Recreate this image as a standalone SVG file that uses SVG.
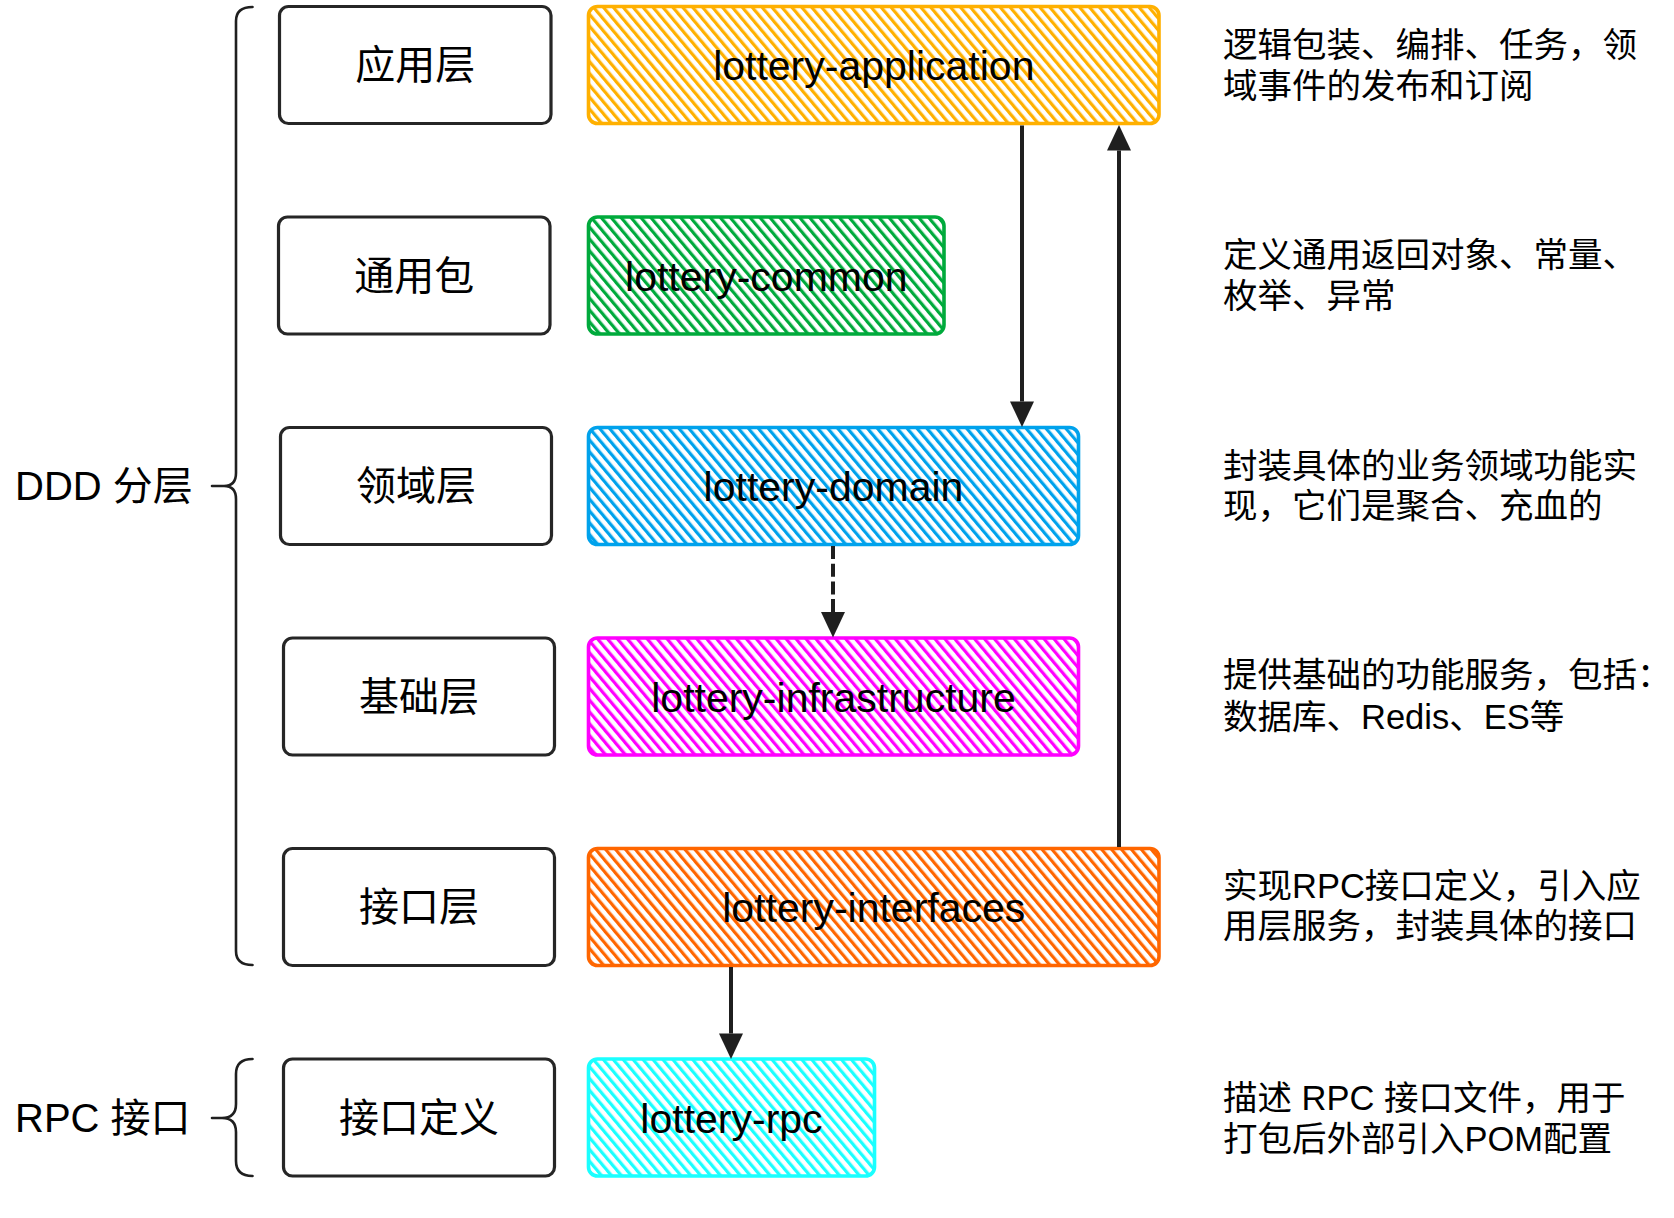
<svg xmlns="http://www.w3.org/2000/svg" width="1674" height="1218" viewBox="0 0 1674 1218">
  <style>
    .txt { font-family: "Liberation Sans", "Noto Sans CJK SC", sans-serif; fill: #000; }
    .lbl { font-size: 40px; text-anchor: middle; }
    .mod { font-size: 41px; text-anchor: middle; }
    .side { font-size: 40px; }
    .desc { font-size: 34.5px; }
    .lbox { fill: #fff; stroke: #262626; stroke-width: 3.2; }
    .mbox { stroke-width: 3.6; }
    .conn { fill: none; stroke: #1f1f1f; stroke-width: 4; }
    .dash { stroke-dasharray: 13 4.7; }
    .brace { fill: none; stroke: #1f1f1f; stroke-width: 2.6; stroke-linecap: round; stroke-linejoin: round; }
  </style>
  <defs>
    <pattern id="hYellow" patternUnits="userSpaceOnUse" width="7.6" height="10" patternTransform="rotate(-40)">
      <rect x="0" y="0" width="3.2" height="10" fill="#FFB000"/>
    </pattern>
    <pattern id="hGreen" patternUnits="userSpaceOnUse" width="7.6" height="10" patternTransform="rotate(-40)">
      <rect x="0" y="0" width="3.2" height="10" fill="#00AA3C"/>
    </pattern>
    <pattern id="hBlue" patternUnits="userSpaceOnUse" width="7.6" height="10" patternTransform="rotate(-40)">
      <rect x="0" y="0" width="3.2" height="10" fill="#00A2EC"/>
    </pattern>
    <pattern id="hMagenta" patternUnits="userSpaceOnUse" width="7.6" height="10" patternTransform="rotate(-40)">
      <rect x="0" y="0" width="3.2" height="10" fill="#FF00FF"/>
    </pattern>
    <pattern id="hOrange" patternUnits="userSpaceOnUse" width="7.6" height="10" patternTransform="rotate(-40)">
      <rect x="0" y="0" width="3.2" height="10" fill="#FF6600"/>
    </pattern>
    <pattern id="hCyan" patternUnits="userSpaceOnUse" width="7.6" height="10" patternTransform="rotate(-40)">
      <rect x="0" y="0" width="3.2" height="10" fill="#1AFFFF"/>
    </pattern>
    <marker id="arrow" markerUnits="userSpaceOnUse" markerWidth="26" markerHeight="24" refX="0" refY="12" orient="auto" overflow="visible">
      <path d="M0,0 L25.5,12 L0,24 Z" fill="#1f1f1f" stroke="none"/>
    </marker>
  </defs>

  <rect x="0" y="0" width="1674" height="1218" fill="#fff"/>

  <!-- Group labels and braces -->
  <g id="group-ddd">
    <path class="brace" d="M252.5,7 Q236,7 236,21 L236,473 Q236,486 224,486 L212,486 M224,486 Q236,486 236,499 L236,951 Q236,965 252.5,965"/>
    <text class="txt side" x="15" y="500">DDD 分层</text>
  </g>
  <g id="group-rpc">
    <path class="brace" d="M252.5,1059 Q236,1059 236,1074 L236,1104 Q236,1118 222,1118 L212,1118 M222,1118 Q236,1118 236,1132 L236,1161 Q236,1176 252.5,1176"/>
    <text class="txt side" x="15" y="1132">RPC 接口</text>
  </g>

  <!-- Layer boxes -->
  <g id="layer-app">
    <rect class="lbox" x="279.5" y="6.5" width="271.5" height="117" rx="9"/>
    <text class="txt lbl" x="415.3" y="79">应用层</text>
  </g>
  <g id="layer-common">
    <rect class="lbox" x="278.5" y="217" width="271.5" height="117" rx="9"/>
    <text class="txt lbl" x="414.3" y="289.5">通用包</text>
  </g>
  <g id="layer-domain">
    <rect class="lbox" x="280.5" y="427.5" width="271" height="117" rx="9"/>
    <text class="txt lbl" x="416" y="500">领域层</text>
  </g>
  <g id="layer-infra">
    <rect class="lbox" x="283.5" y="638" width="271" height="117" rx="9"/>
    <text class="txt lbl" x="419" y="710.5">基础层</text>
  </g>
  <g id="layer-interfaces">
    <rect class="lbox" x="283.5" y="848.5" width="271" height="117" rx="9"/>
    <text class="txt lbl" x="419" y="921">接口层</text>
  </g>
  <g id="layer-rpc">
    <rect class="lbox" x="283.5" y="1059" width="271" height="117" rx="9"/>
    <text class="txt lbl" x="419" y="1131.5">接口定义</text>
  </g>

  <!-- Module boxes -->
  <g id="mod-application">
    <rect x="588.5" y="6.5" width="570.5" height="117" rx="9" fill="#fff"/>
    <rect class="mbox" x="588.5" y="6.5" width="570.5" height="117" rx="9" fill="url(#hYellow)" stroke="#FFB000"/>
    <text class="txt mod" x="873.8" y="80">lottery-application</text>
  </g>
  <g id="mod-common">
    <rect x="588.5" y="217" width="355.5" height="117" rx="9" fill="#fff"/>
    <rect class="mbox" x="588.5" y="217" width="355.5" height="117" rx="9" fill="url(#hGreen)" stroke="#00AA3C"/>
    <text class="txt mod" x="766.3" y="290.5">lottery-common</text>
  </g>
  <g id="mod-domain">
    <rect x="588.5" y="427.5" width="490" height="117" rx="9" fill="#fff"/>
    <rect class="mbox" x="588.5" y="427.5" width="490" height="117" rx="9" fill="url(#hBlue)" stroke="#00A2EC"/>
    <text class="txt mod" x="833.5" y="501">lottery-domain</text>
  </g>
  <g id="mod-infrastructure">
    <rect x="588.5" y="638" width="490" height="117" rx="9" fill="#fff"/>
    <rect class="mbox" x="588.5" y="638" width="490" height="117" rx="9" fill="url(#hMagenta)" stroke="#FF00FF"/>
    <text class="txt mod" x="833.5" y="711.5">lottery-infrastructure</text>
  </g>
  <g id="mod-interfaces">
    <rect x="588.5" y="848.5" width="570.5" height="117" rx="9" fill="#fff"/>
    <rect class="mbox" x="588.5" y="848.5" width="570.5" height="117" rx="9" fill="url(#hOrange)" stroke="#FF6600"/>
    <text class="txt mod" x="873.8" y="922">lottery-interfaces</text>
  </g>
  <g id="mod-rpc">
    <rect x="588.5" y="1059" width="286" height="117" rx="9" fill="#fff"/>
    <rect class="mbox" x="588.5" y="1059" width="286" height="117" rx="9" fill="url(#hCyan)" stroke="#1AFFFF"/>
    <text class="txt mod" x="731.5" y="1132.5">lottery-rpc</text>
  </g>

  <!-- Descriptions -->
  <g id="desc-application">
    <text class="txt desc" x="1223" y="57">逻辑包装、编排、任务，领</text>
    <text class="txt desc" x="1223" y="98">域事件的发布和订阅</text>
  </g>
  <g id="desc-common">
    <text class="txt desc" x="1223" y="267">定义通用返回对象、常量、</text>
    <text class="txt desc" x="1223" y="308">枚举、异常</text>
  </g>
  <g id="desc-domain">
    <text class="txt desc" x="1223" y="477.5">封装具体的业务领域功能实</text>
    <text class="txt desc" x="1223" y="518">现，它们是聚合、充血的</text>
  </g>
  <g id="desc-infrastructure">
    <text class="txt desc" x="1223" y="687">提供基础的功能服务，包括：</text>
    <text class="txt desc" x="1223" y="729">数据库、Redis、ES等</text>
  </g>
  <g id="desc-interfaces">
    <text class="txt desc" x="1223" y="897.5">实现RPC接口定义，引入应</text>
    <text class="txt desc" x="1223" y="937.5">用层服务，封装具体的接口</text>
  </g>
  <g id="desc-rpc">
    <text class="txt desc" x="1223" y="1110">描述 RPC 接口文件，用于</text>
    <text class="txt desc" x="1223" y="1151">打包后外部引入POM配置</text>
  </g>

  <!-- Connectors -->
  <g id="connectors">
    <path class="conn" d="M1022,125.5 V401.5" marker-end="url(#arrow)"/>
    <path class="conn" d="M1119,847 V150.5" marker-end="url(#arrow)"/>
    <path class="conn dash" d="M833,546 V612" marker-end="url(#arrow)"/>
    <path class="conn" d="M731,967 V1033.5" marker-end="url(#arrow)"/>
  </g>
</svg>
